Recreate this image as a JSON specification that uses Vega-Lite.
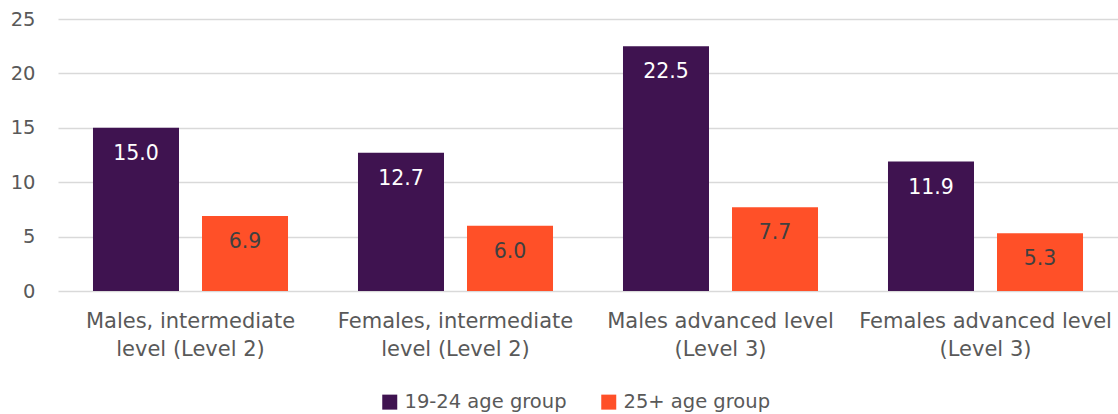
{
  "$schema": "https://vega.github.io/schema/vega-lite/v6.json",
  "autosize": {"type": "none"},
  "padding": {"left": 58, "top": 19, "right": 0, "bottom": 123},
  "width": 1060,
  "height": 272,
  "config": {"view": {"stroke": null}},
  "data": {"values": [
    {"category": "Males, intermediate level (Level 2)", "group": "19-24 age group", "value": 15.0},
    {"category": "Males, intermediate level (Level 2)", "group": "25+ age group", "value": 6.9},
    {"category": "Females, intermediate level (Level 2)", "group": "19-24 age group", "value": 12.7},
    {"category": "Females, intermediate level (Level 2)", "group": "25+ age group", "value": 6.0},
    {"category": "Males advanced level (Level 3)", "group": "19-24 age group", "value": 22.5},
    {"category": "Males advanced level (Level 3)", "group": "25+ age group", "value": 7.7},
    {"category": "Females advanced level (Level 3)", "group": "19-24 age group", "value": 11.9},
    {"category": "Females advanced level (Level 3)", "group": "25+ age group", "value": 5.3}
  ]},
  "encoding": {
    "x": {
      "field": "category", "type": "nominal", "sort": null, "title": null,
      "scale": {"paddingInner": 0, "paddingOuter": 0},
      "axis": {
        "labelAngle": 0, "domain": false, "ticks": false, "labelPadding": 19,
        "labelFontSize": 21, "labelLineHeight": 28, "labelColor": "#595959",
        "labelFont": "DejaVu Sans", "labelLimit": 400, "labelBaseline": "top",
        "labelExpr": "datum.label == 'Males, intermediate level (Level 2)' ? ['Males, intermediate', 'level (Level 2)'] : datum.label == 'Females, intermediate level (Level 2)' ? ['Females, intermediate', 'level (Level 2)'] : datum.label == 'Males advanced level (Level 3)' ? ['Males advanced level', '(Level 3)'] : ['Females advanced level', '(Level 3)']"
      }
    },
    "xOffset": {"field": "group", "type": "nominal", "scale": {"paddingInner": 0.211, "paddingOuter": 0.321}},
    "y": {
      "field": "value", "type": "quantitative", "title": null,
      "scale": {"domain": [0, 25]},
      "axis": {
        "values": [0, 5, 10, 15, 20, 25], "domain": false, "ticks": false,
        "labelPadding": 23, "labelFontSize": 19.5, "labelColor": "#595959",
        "labelFont": "DejaVu Sans", "gridColor": "#d9d9d9", "gridWidth": 1.5
      }
    }
  },
  "layer": [
    {
      "mark": {"type": "bar"},
      "encoding": {
        "color": {
          "field": "group", "type": "nominal",
          "scale": {"domain": ["19-24 age group", "25+ age group"], "range": ["#3f1350", "#ff5028"]},
          "legend": {
            "title": null, "orient": "none", "direction": "horizontal",
            "legendX": 322, "legendY": 373,
            "symbolType": "square", "symbolSize": 225, "symbolStrokeWidth": 0,
            "labelFontSize": 19.5, "labelColor": "#595959", "labelFont": "DejaVu Sans",
            "labelLimit": 300, "columnPadding": 32, "labelOffset": 5
          }
        }
      }
    },
    {
      "mark": {"type": "text", "baseline": "top", "dy": 16, "fontSize": 20.5, "font": "DejaVu Sans"},
      "encoding": {
        "text": {"field": "value", "type": "quantitative", "format": ".1f"},
        "color": {"condition": {"test": "datum.group == '19-24 age group'", "value": "#ffffff"}, "value": "#404040"}
      }
    }
  ]
}
